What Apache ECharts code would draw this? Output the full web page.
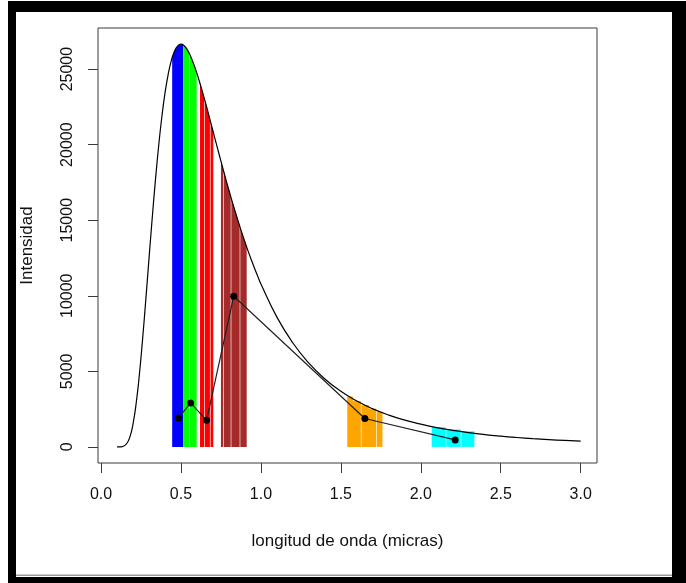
<!DOCTYPE html>
<html>
<head>
<meta charset="utf-8">
<script src="https://cdn.jsdelivr.net/npm/echarts@6/dist/echarts.min.js"></script>
<style>
  html, body { margin: 0; padding: 0; background: #fff; }
  #chart { width: 686px; height: 583px; }
</style>
</head>
<body>
<div id="chart"></div>
<script>
// curva de intensidad
const lambdas = [0.10, 0.12, 0.14, 0.16, 0.18, 0.20, 0.22, 0.24, 0.26, 0.28,
  0.30, 0.32, 0.34, 0.36, 0.38, 0.40, 0.42, 0.44, 0.46, 0.48,
  0.50, 0.52, 0.54, 0.56, 0.58, 0.60, 0.62, 0.64, 0.66, 0.68,
  0.70, 0.72, 0.74, 0.76, 0.78, 0.80, 0.82, 0.84, 0.86, 0.88,
  0.90, 0.92, 0.94, 0.96, 0.98, 1.00, 1.1, 1.2, 1.3, 1.4,
  1.5, 1.6, 1.7, 1.8, 1.9, 2.0, 2.1, 2.2, 2.3, 2.4,
  2.5, 2.6, 2.7, 2.8, 2.9, 3.0]
const intensity = [0, 5, 44, 208, 646, 1514, 2903, 4810, 7140, 9744,
  12457, 15129, 17633, 19879, 21810, 23406, 24657, 25577, 26200, 26538,
  26646, 26543, 26269, 25853, 25324, 24704, 24015, 23277, 22506, 21712,
  20907, 20101, 19300, 18511, 17736, 16980, 16249, 15540, 14854, 14196,
  13563, 12955, 12375, 11819, 11289, 10782, 8587, 6873, 5539, 4496,
  3678, 3032, 2518, 2106, 1772, 1502, 1279, 1097, 945, 818,
  713, 623, 546, 481, 426, 377]

// puntos unidos por linea
const pointLambda = [0.485, 0.56, 0.66, 0.83, 1.65, 2.215]
const pointValue = [1920, 2910, 1760, 9970, 1880, 460]

// bandas: cada tramo es una lista de puntos [lambda, intensidad] del borde superior
const blueBand = [
  [[0.445, 25780], [0.46, 26200], [0.48, 26538], [0.50, 26646], [0.515, 26580]],
]
const greenBand = [
  [[0.519, 26560], [0.54, 26269], [0.552, 26030]],
  [[0.556, 25940], [0.58, 25324], [0.598, 24770]],
]
const redBand = [
  [[0.619, 24050], [0.64, 23277], [0.645, 23090]],
  [[0.649, 22950], [0.66, 22506], [0.68, 21712], [0.681, 21670]],
  [[0.685, 21520], [0.70, 20907], [0.702, 20830]],
]
const brownBand = [
  [[0.75, 18900], [0.764, 18350]],
  [[0.768, 18200], [0.78, 17736], [0.80, 16980], [0.811, 16580]],
  [[0.815, 16430], [0.84, 15540], [0.86, 14854], [0.867, 14620]],
  [[0.871, 14490], [0.88, 14196], [0.90, 13563], [0.911, 13230]],
]
const orangeBand = [
  [[1.54, 3340], [1.575, 3340], [1.575, 3040], [1.625, 3040]],
  [[1.629, 2770], [1.675, 2770], [1.675, 2520], [1.721, 2520]],
  [[1.725, 2300], [1.76, 2300]],
]
const cyanBand = [
  [[2.068, 1300], [2.155, 1300]],
  [[2.159, 1150], [2.25, 1150]],
  [[2.254, 1030], [2.335, 1030]],
]

const xTicks = [0, 0.5, 1, 1.5, 2, 2.5, 3]
const yTicks = [0, 5000, 10000, 15000, 20000, 25000]

const chart = echarts.init(document.getElementById('chart'))

// cada banda se dibuja como poligonos bajo la curva
function bandSeries(segments, color) {
  return {
    type: 'custom',
    silent: true,
    z: 1,
    data: segments.map((seg) => [seg[0][0], seg[seg.length - 1][0], 0]),
    encode: { x: [0, 1], y: 2 },
    renderItem(params, api) {
      const seg = segments[params.dataIndex]
      const pts = [api.coord([seg[0][0], 0])]
      seg.forEach((p) => pts.push(api.coord(p)))
      pts.push(api.coord([seg[seg.length - 1][0], 0]))
      return { type: 'polygon', shape: { points: pts }, style: { fill: color } }
    },
  }
}

const axisColor = '#3a3a3a'
const textColor = '#111'

const option = {
  animation: false,
  textStyle: { fontFamily: 'Liberation Sans' },
  graphic: [
    { type: 'rect', shape: { x: 8, y: 1, width: 678, height: 11 }, style: { fill: '#000' } },
    { type: 'rect', shape: { x: 8, y: 1, width: 8, height: 582 }, style: { fill: '#000' } },
    { type: 'rect', shape: { x: 672, y: 1, width: 14, height: 582 }, style: { fill: '#000' } },
    { type: 'rect', shape: { x: 8, y: 577, width: 678, height: 6 }, style: { fill: '#000' } },
    { type: 'rect', shape: { x: 16, y: 574.5, width: 656, height: 1.5 }, style: { fill: '#999' } },
  ],
  grid: {
    left: 98,
    right: 89,
    top: 28,
    bottom: 120,
    show: true,
    borderColor: axisColor,
    borderWidth: 1,
  },
  xAxis: {
    type: 'value',
    min: -0.019,
    max: 3.102,
    name: 'longitud de onda (micras)',
    nameLocation: 'middle',
    nameGap: 70,
    nameTextStyle: { fontSize: 17, color: textColor },
    axisLine: { show: false, onZero: false },
    axisTick: { show: true, length: 10, customValues: xTicks, lineStyle: { color: axisColor } },
    axisLabel: {
      customValues: xTicks,
      formatter: (v) => v.toFixed(1),
      margin: 24,
      fontSize: 16,
      color: textColor,
    },
    splitLine: { show: false },
  },
  yAxis: {
    type: 'value',
    min: -1066,
    max: 27719,
    name: 'Intensidad',
    nameLocation: 'middle',
    nameGap: 62,
    nameTextStyle: { fontSize: 17, color: textColor },
    axisLine: { show: false, onZero: false },
    axisTick: { show: true, length: 10, customValues: yTicks, lineStyle: { color: axisColor } },
    axisLabel: {
      customValues: yTicks,
      formatter: (v) => String(v),
      rotate: 90,
      margin: 22,
      fontSize: 16,
      color: textColor,
    },
    splitLine: { show: false },
  },
  series: [
    bandSeries(blueBand, '#0000ff'),
    bandSeries(greenBand, '#00ff00'),
    bandSeries(redBand, '#ff0000'),
    bandSeries(brownBand, '#a52a2a'),
    bandSeries(orangeBand, '#ffa500'),
    bandSeries(cyanBand, '#00ffff'),
    {
      type: 'line',
      z: 3,
      smooth: true,
      showSymbol: false,
      silent: true,
      data: lambdas.map((x, i) => [x, intensity[i]]),
      lineStyle: { color: '#000', width: 1.2 },
    },
    {
      type: 'line',
      z: 4,
      symbol: 'circle',
      symbolSize: 7,
      silent: true,
      data: pointLambda.map((x, i) => [x, pointValue[i]]),
      itemStyle: { color: '#000' },
      lineStyle: { color: '#222', width: 1.2 },
    },
  ],
}

chart.setOption(option)
window.addEventListener('resize', () => chart.resize())
</script>
</body>
</html>
